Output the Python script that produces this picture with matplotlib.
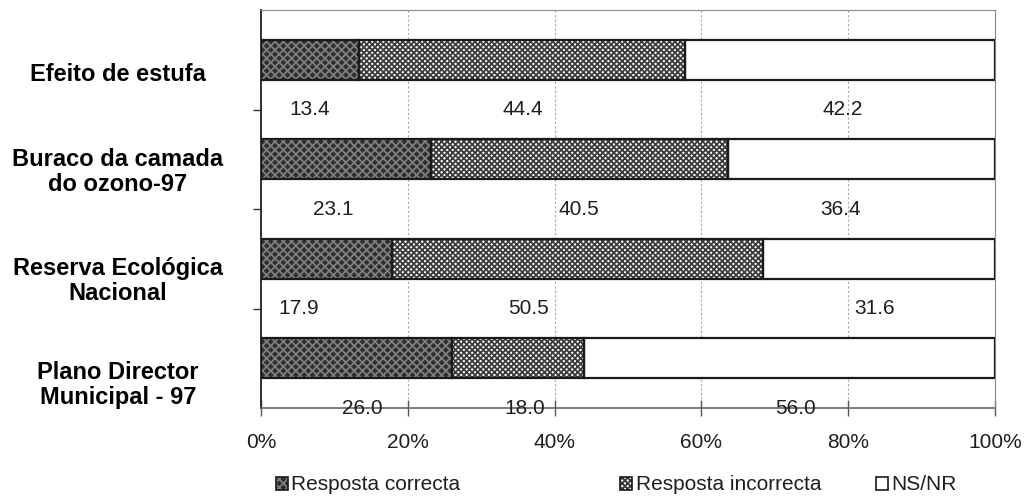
import matplotlib
matplotlib.use('Agg')
import matplotlib.pyplot as plt
from matplotlib.patches import Patch
import numpy as np

plt.rcParams['font.family'] = ['Liberation Sans', 'DejaVu Sans']
plt.rcParams['hatch.linewidth'] = 1.3

# dados
temas = ['Efeito de estufa', 'Buraco da camada\ndo ozono-97',
         'Reserva Ecológica\nNacional', 'Plano Director\nMunicipal - 97']
correcta = [13.4, 23.1, 17.9, 26.0]
incorrecta = [44.4, 40.5, 50.5, 18.0]
ns_nr = [42.2, 36.4, 31.6, 56.0]
series_nomes = ['Resposta correcta', 'Resposta incorrecta', 'NS/NR']
ticks_pct = [0, 20, 40, 60, 80, 100]

# posição dos rótulos (layout)
rotulo_x = [[6.7, 35.7, 79.2], [9.8, 43.3, 79.0], [5.2, 36.4, 83.6], [13.8, 36.0, 72.8]]
tema_y = [0.15, 1.13, 2.22, 3.27]
legenda_x = [0.268, 0.6025, 0.851]

# estilos das séries
estilos = [
    dict(face='#2e2e2e', hatch_cor='#7e7e7e', hatch='xxxx'),
    dict(face='#ffffff', hatch_cor='#3c3c3c', hatch='xxxxxx'),
    dict(face='#ffffff', hatch_cor='#ffffff', hatch=None),
]
contorno = '#1a1a1a'
texto = '#1e1e1e'

fig = plt.figure(figsize=(10.29, 5.01), dpi=100)
ax = fig.add_axes([0.2536, 0.1856, 0.7133, 0.7944])

y = np.arange(len(temas))
esquerda = np.zeros(len(temas))
for valores, est in zip([correcta, incorrecta, ns_nr], estilos):
    ax.barh(y, valores, left=esquerda, height=0.4, color=est['face'],
            edgecolor=est['hatch_cor'], hatch=est['hatch'], linewidth=0, zorder=2)
    ax.barh(y, valores, left=esquerda, height=0.4, fill=False,
            edgecolor=contorno, linewidth=1.6, zorder=3)
    esquerda += np.array(valores)

# valores por baixo de cada barra
for i, linha in enumerate(zip(correcta, incorrecta, ns_nr)):
    for v, xpos in zip(linha, rotulo_x[i]):
        ax.text(xpos, i + 0.5, f'{v:.1f}', ha='center', va='center',
                fontsize=15, color=texto, zorder=4, clip_on=False)

# nomes dos temas
for tema, ty in zip(temas, tema_y):
    ax.text(-0.195, ty, tema, transform=ax.get_yaxis_transform(), ha='center',
            va='center', fontsize=17, fontweight='bold', linespacing=1.12,
            color='black')

# eixos
ax.set_xlim(0, 100)
ax.set_ylim(3.5, -0.5)
ax.set_xticks(ticks_pct)
ax.set_xticklabels([f'{t}%' for t in ticks_pct])
ax.tick_params(axis='x', direction='inout', length=12, width=1, color='#555555',
               labelcolor=texto, labelsize=15, pad=12)
ax.set_yticks([])
ax.set_yticks([0.5, 1.5, 2.5], minor=True)
ax.tick_params(axis='y', which='minor', direction='out', length=6, width=1, color='#333333')
ax.grid(axis='x', color='#aaaaaa', linewidth=0.8, linestyle=(0, (2, 2)))
ax.set_axisbelow(True)

ax.spines['left'].set_color('#222222')
ax.spines['left'].set_linewidth(1.3)
ax.spines['bottom'].set_color('#666666')
ax.spines['bottom'].set_linewidth(1.2)
for lado in ['top', 'right']:
    ax.spines[lado].set_color('#888888')
    ax.spines[lado].set_linewidth(0.8)

# legenda
for nome, est, lx in zip(series_nomes, estilos, legenda_x):
    h = (Patch(facecolor=est['face'], edgecolor=est['hatch_cor'], hatch=est['hatch'], linewidth=0),
         Patch(fill=False, edgecolor=contorno, linewidth=1.2))
    fig.legend([h], [nome], loc='center left', bbox_to_anchor=(lx, 0.032),
               frameon=False, fontsize=15, handlelength=0.6, handleheight=0.6,
               handletextpad=0.15, borderpad=0, borderaxespad=0, labelcolor=texto)

fig.savefig('out.png', dpi=100)
